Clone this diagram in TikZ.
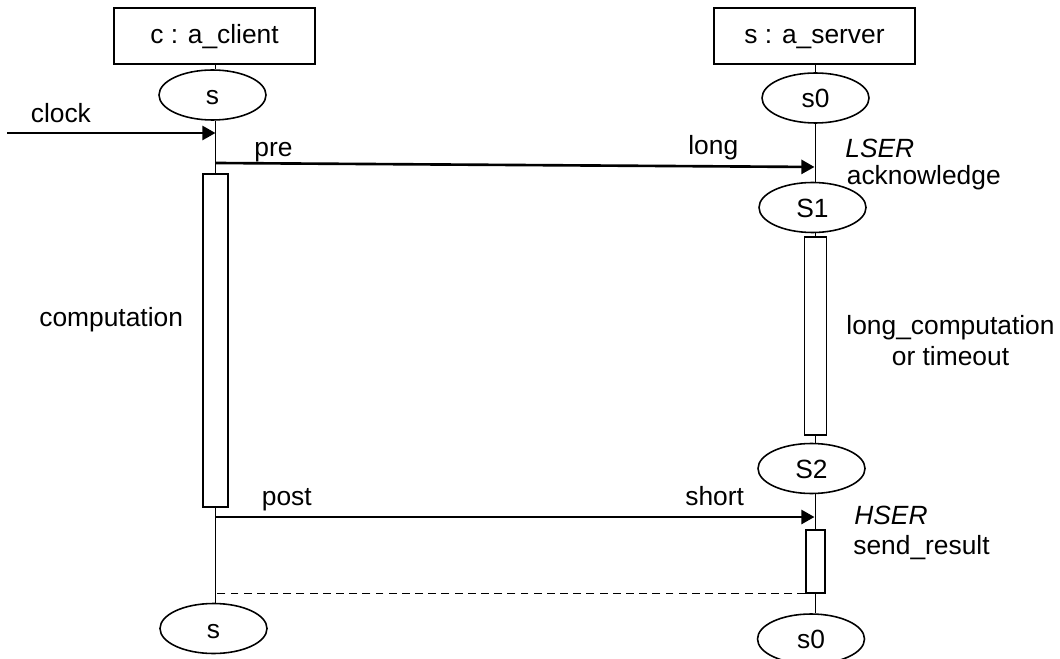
\documentclass[tikz,border=0pt]{standalone}
\usepackage{fontspec}
\setmainfont{Liberation Sans}
\usetikzlibrary{arrows.meta,shapes.geometric}

\begin{document}
\begin{tikzpicture}[x=1cm,y=1cm,font=\fontsize{15}{18}\selectfont,
  objbox/.style={draw,line width=0.9pt,minimum width=4.02cm,minimum height=1.12cm,inner sep=0pt,text height=10.8pt,text depth=2.6pt},
  statenode/.style={ellipse,draw,line width=0.9pt,minimum width=2.14cm,minimum height=1.0cm,inner sep=0pt,text height=12pt,text depth=0.8pt},
  actbar/.style={draw,line width=0.9pt,inner sep=0pt},
  lbl/.style={anchor=base west,inner sep=0pt},
  clbl/.style={anchor=base,inner sep=0pt},
  life/.style={line width=0.9pt},
  msg/.style={line width=1.5pt,-{Triangle[length=7.5pt,width=8pt]}}]
\path[use as bounding box] (0,0) rectangle (21.20,13.16);
\node[objbox] (cbox) at (4.29,12.44) {c : a\_client};
\node[objbox] (sbox) at (16.29,12.44) {s : a\_server};
\node[statenode] (cs) at (4.25,11.26) {s};
\node[statenode] (ss0) at (16.31,11.20) {s0};
\node[statenode] (sS1) at (16.25,9.01) {S1};
\node[statenode] (sS2) at (16.23,3.79) {S2};
\node[statenode] (cend) at (4.27,0.59) {s};
\node[statenode] (send) at (16.22,0.38) {s0};
\node[actbar,minimum width=0.50cm,minimum height=6.66cm] (cbar) at (4.31,6.35) {};
\node[actbar,minimum width=0.44cm,minimum height=3.96cm] (sbar1) at (16.31,6.44) {};
\node[actbar,minimum width=0.38cm,minimum height=1.26cm] (sbar2) at (16.31,1.93) {};
\draw[life] (cbox.south -| cbar) -- (cs.north -| cbar);
\draw[life] (cs.south -| cbar) -- (cbar.north);
\draw[life] (cbar.south) -- (cend.north -| cbar);
\draw[life] (sbox.south -| sbar1) -- (ss0.north -| sbar1);
\draw[life] (ss0.south -| sbar1) -- (sS1.north -| sbar1);
\draw[life] (sS1.south -| sbar1) -- (sbar1.north);
\draw[life] (sbar1.south) -- (sS2.north -| sbar1);
\draw[life] (sS2.south -| sbar1) -- (sbar2.north);
\draw[life] (sbar2.south) -- (send.north -| sbar1);
\coordinate (clk) at (0.14,10.50);
\coordinate (preA) at (4.31,9.90);
\coordinate (preB) at (16.29,9.82);
\coordinate (postA) at (4.31,2.82);
\coordinate (postB) at (16.29,2.82);
\draw[msg] (clk) -- (clk -| cbar);
\draw[msg] (preA) -- (preB);
\draw[msg] (postA) -- (postB);
\draw[line width=0.8pt,dash pattern=on 4.5pt off 3pt] (sbar2.south west) -- (sbar2.south west -| cbar);
\node[lbl] (clocklbl) at (0.61,10.70) {clock};
\node[lbl] (prelbl) at (5.08,10.02) {pre};
\node[lbl] (longlbl) at (13.76,10.06) {long};
\node[lbl] (lserlbl) at (16.90,10.00) {\textit{LSER}};
\node[lbl] (acklbl) at (16.93,9.46) {acknowledge};
\node[lbl] (complbl) at (0.78,6.63) {computation};
\node[clbl] (lclbl) at (19.01,6.46) {long\_computation};
\node[clbl] (tolbl) at (19.01,5.86) {or timeout};
\node[lbl] (postlbl) at (5.23,3.06) {post};
\node[lbl] (shortlbl) at (13.70,3.06) {short};
\node[lbl] (hserlbl) at (17.08,2.68) {\textit{HSER}};
\node[lbl] (sendlbl) at (17.06,2.08) {send\_result};
\end{tikzpicture}
\end{document}
